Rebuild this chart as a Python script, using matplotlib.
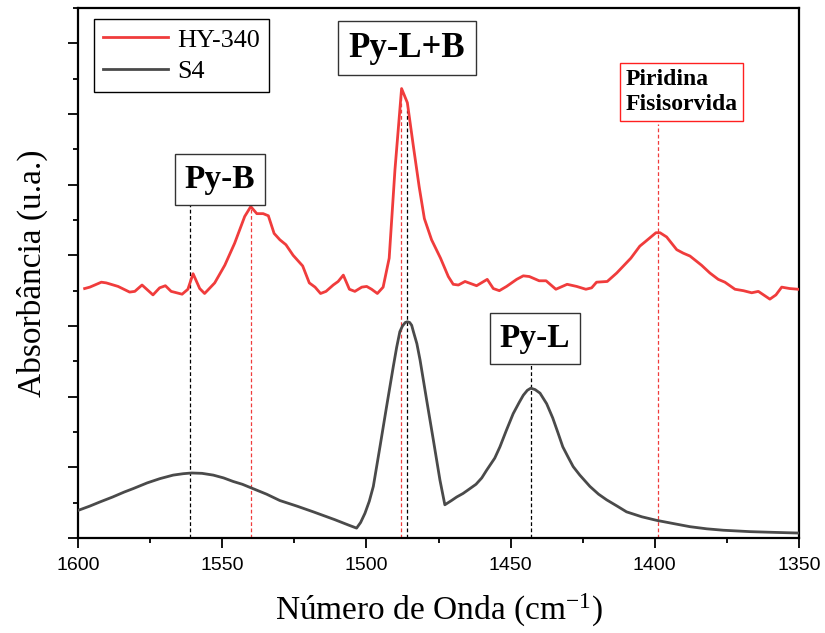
import matplotlib
matplotlib.use("Agg")
import matplotlib.pyplot as plt
from matplotlib.ticker import MultipleLocator

# ---------------- data ----------------
hy340_wn = [1597.7, 1595.9, 1591.9, 1590.2, 1586.1, 1582.1, 1580.3, 1577.8, 1574.0, 1571.7,
            1569.7, 1567.7, 1563.9, 1561.9, 1560.1, 1557.8, 1556.1, 1552.6, 1549.1, 1545.7,
            1542.2, 1540.1, 1538.0, 1535.8, 1534.0, 1532.0, 1530.0, 1527.9, 1525.4, 1522.1,
            1519.8, 1517.8, 1515.9, 1514.0, 1511.5, 1509.8, 1508.0, 1505.9, 1504.0, 1501.6,
            1499.9, 1498.2, 1496.2, 1494.2, 1492.1, 1490.1, 1487.8, 1485.8, 1483.7, 1481.7,
            1479.9, 1477.4, 1474.3, 1471.6, 1469.9, 1468.1, 1465.8, 1461.8, 1458.1, 1456.0,
            1453.9, 1451.4, 1447.9, 1445.6, 1443.5, 1440.1, 1437.7, 1434.3, 1430.4, 1427.1,
            1423.9, 1421.9, 1420.2, 1416.5, 1413.2, 1408.3, 1405.2, 1403.4, 1399.6, 1398.2,
            1395.9, 1392.4, 1390.1, 1387.8, 1383.8, 1380.9, 1378.0, 1375.7, 1372.2, 1369.3,
            1366.4, 1364.1, 1360.1, 1358.0, 1356.0, 1353.2, 1350.3]
hy340_abs = [3.53, 3.55, 3.62, 3.61, 3.56, 3.48, 3.49, 3.58, 3.44, 3.54,
             3.57, 3.49, 3.45, 3.52, 3.74, 3.53, 3.46, 3.61, 3.86, 4.17,
             4.55, 4.69, 4.59, 4.59, 4.56, 4.31, 4.22, 4.15, 4.00, 3.85,
             3.61, 3.55, 3.46, 3.49, 3.58, 3.63, 3.72, 3.52, 3.49, 3.55,
             3.56, 3.52, 3.46, 3.55, 3.96, 5.21, 6.36, 6.16, 5.54, 4.97,
             4.52, 4.22, 3.96, 3.70, 3.59, 3.58, 3.63, 3.57, 3.66, 3.53,
             3.50, 3.56, 3.66, 3.71, 3.70, 3.64, 3.64, 3.52, 3.59, 3.56,
             3.52, 3.54, 3.62, 3.63, 3.75, 3.96, 4.13, 4.19, 4.32, 4.32,
             4.26, 4.08, 4.03, 3.99, 3.86, 3.75, 3.66, 3.62, 3.52, 3.50,
             3.47, 3.49, 3.38, 3.44, 3.55, 3.53, 3.52]

s4_wn = [1600.0, 1596.0, 1592.4, 1588.0, 1584.0, 1580.8, 1576.0, 1571.6, 1567.0, 1563.5,
         1560.6, 1557.0, 1553.1, 1549.5, 1546.2, 1543.0, 1540.0, 1537.0, 1534.6, 1530.0,
         1524.0, 1518.4, 1511.0, 1506.0, 1503.4, 1502.0, 1500.5, 1499.0, 1497.6, 1495.3,
         1493.0, 1490.7, 1489.5, 1488.4, 1487.5, 1486.5, 1485.8, 1485.0, 1484.3, 1483.7,
         1482.5, 1481.4, 1479.1, 1476.8, 1474.5, 1472.8, 1470.5, 1468.7, 1466.5, 1465.1,
         1462.0, 1460.0, 1458.3, 1455.5, 1453.7, 1451.5, 1449.1, 1447.0, 1445.6, 1444.2,
         1443.0, 1441.5, 1439.8, 1437.5, 1435.4, 1433.5, 1431.9, 1430.0, 1428.3, 1426.0,
         1422.5, 1419.5, 1416.7, 1413.0, 1409.8, 1404.5, 1399.4, 1393.0, 1387.8, 1382.0,
         1376.3, 1367.0, 1358.9, 1350.0]
s4_abs = [0.39, 0.45, 0.51, 0.58, 0.65, 0.70, 0.78, 0.84, 0.89, 0.91,
          0.92, 0.915, 0.89, 0.85, 0.80, 0.76, 0.71, 0.66, 0.62, 0.53,
          0.45, 0.37, 0.26, 0.18, 0.14, 0.22, 0.35, 0.52, 0.73, 1.29,
          1.86, 2.42, 2.70, 2.92, 3.00, 3.05, 3.06, 3.05, 3.01, 2.92,
          2.75, 2.52, 1.95, 1.39, 0.82, 0.47, 0.53, 0.58, 0.63, 0.67,
          0.76, 0.85, 0.96, 1.13, 1.29, 1.52, 1.76, 1.92, 2.02, 2.09,
          2.12, 2.10, 2.05, 1.90, 1.70, 1.48, 1.29, 1.14, 1.01, 0.89,
          0.73, 0.62, 0.54, 0.45, 0.37, 0.30, 0.25, 0.20, 0.16, 0.13,
          0.11, 0.09, 0.08, 0.07]

series_labels = ["HY-340", "S4"]
series_colors = ["#F03C3C", "#4A4A4A"]

# reference lines: position, top, colour
ref_wn = [1561, 1540, 1488, 1486, 1443, 1399]
ref_top = [4.71, 4.69, 6.30, 6.06, 2.46, 5.86]
ref_col = ["black", "#F03C3C", "#F03C3C", "black", "black", "#F03C3C"]

# annotation boxes: text, x, y, edge colour, size
ann_text = ["Py-B", "Py-L+B", "Py-L", "Piridina\nFisisorvida"]
ann_x = [1550.8, 1486.0, 1441.6, 1390.7]
ann_y = [5.08, 6.93, 2.83, 6.31]
ann_edge = ["#333333", "#333333", "#333333", "#FF2020"]
ann_size = [24, 25, 24, 17]

xticks = [1600, 1550, 1500, 1450, 1400, 1350]

# ---------------- plot ----------------
plt.rcParams['mathtext.fontset'] = 'custom'
plt.rcParams['mathtext.rm'] = 'Liberation Serif'
plt.rcParams['mathtext.it'] = 'Liberation Serif:italic'
plt.rcParams['mathtext.default'] = 'regular'

fig = plt.figure(figsize=(8.25, 6.33), dpi=100)
ax = fig.add_axes([78/825, 1-538/633, (799-78)/825, (538-8)/633])

for xv, top, c in zip(ref_wn, ref_top, ref_col):
    ax.plot([xv, xv], [0, top], color=c, lw=0.9, dashes=(3, 2), zorder=1)

ax.plot(hy340_wn, hy340_abs, color=series_colors[0], lw=2.0, label=series_labels[0], zorder=3)
ax.plot(s4_wn, s4_abs, color=series_colors[1], lw=2.0, label=series_labels[1], zorder=3)

for t, xv, yv, ec, fs in zip(ann_text, ann_x, ann_y, ann_edge, ann_size):
    if "\n" in t:
        ax.text(xv, yv, t, ha='center', va='center', fontsize=fs, fontweight='bold',
                family='Liberation Serif', multialignment='left', linespacing=1.3,
                bbox=dict(boxstyle='square,pad=0.22', fc='white', ec=ec, lw=1.0), zorder=4)
    else:
        ax.text(xv, yv, t, ha='center', va='center', fontsize=fs, fontweight='bold',
                family='Liberation Serif',
                bbox=dict(boxstyle='square,pad=0.3', fc='white', ec=ec, lw=1.0), zorder=4)

ax.set_xlim(1600, 1350)
ax.set_ylim(0, 7.5)
ax.set_xticks(xticks)
ax.xaxis.set_minor_locator(MultipleLocator(25))
ax.yaxis.set_major_locator(MultipleLocator(1))
ax.yaxis.set_minor_locator(MultipleLocator(0.5))
ax.tick_params(axis='both', which='major', direction='out', length=7.5, width=1.3)
ax.tick_params(axis='both', which='minor', direction='out', length=3.8, width=1.3)
ax.tick_params(axis='y', which='both', labelleft=False)
ax.tick_params(axis='x', labelsize=14, pad=6)
for lab in ax.get_xticklabels():
    lab.set_family('Liberation Sans')
for sp in ax.spines.values():
    sp.set_linewidth(1.6)

ax.set_xlabel(r'Número de Onda (cm$^{-1}$)', fontsize=24, family='Liberation Serif', labelpad=13)
ax.set_ylabel('Absorbância (u.a.)', fontsize=24, family='Liberation Serif', labelpad=14)

leg = ax.legend(loc='upper left', bbox_to_anchor=(0.022, 0.979), borderaxespad=0,
                fancybox=False, edgecolor='black', framealpha=1,
                prop={'family': 'Liberation Serif', 'size': 18.8},
                handlelength=2.5, handletextpad=0.35, labelspacing=0.3, borderpad=0.35)
leg.get_frame().set_linewidth(1.0)

fig.savefig('out.png', dpi=100)
